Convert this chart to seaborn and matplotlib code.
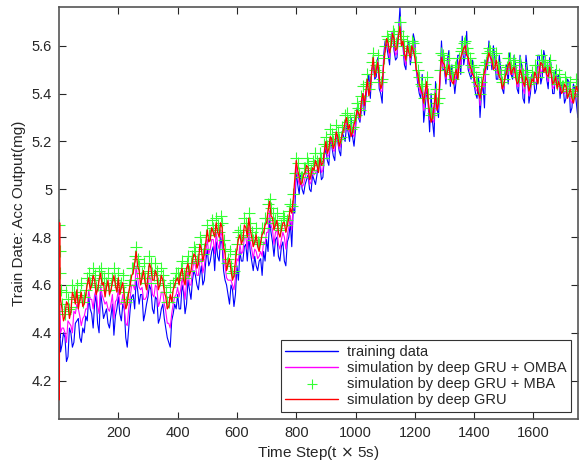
import numpy as np
import pandas as pd
import matplotlib
matplotlib.use('Agg')
import matplotlib.pyplot as plt
import seaborn as sns

# time steps: a few start-up samples, then every 10 steps
steps = np.r_[1, 2, 3, np.arange(10, 1751, 10)]
# in-between samples (5, 15, ..., 1745)
mid_steps = np.arange(5, 1746, 10)

# training data (blue)
training = [
    4.44, 4.38, 4.42, 4.35, 4.38, 4.30, 4.40, 4.36, 4.45, 4.38, 4.42, 4.47,
    4.55, 4.48, 4.52, 4.44, 4.57, 4.46, 4.50, 4.42, 4.52, 4.47,
    4.55, 4.45, 4.50, 4.34, 4.50, 4.56, 4.62, 4.52, 4.56, 4.48,
    4.55, 4.58, 4.48, 4.54, 4.46, 4.52, 4.42, 4.36, 4.45, 4.52,
    4.56, 4.50, 4.57, 4.52, 4.58, 4.62, 4.64, 4.58, 4.68, 4.62,
    4.75, 4.70, 4.76, 4.78, 4.70, 4.77, 4.62, 4.56, 4.60, 4.51,
    4.68, 4.74, 4.70, 4.77, 4.80, 4.70, 4.72, 4.66, 4.71, 4.74,
    4.79, 4.87, 4.78, 4.79, 4.72, 4.76, 4.70, 4.78, 4.86, 4.92,
    5.08, 4.98, 5.00, 5.02, 5.06, 4.99, 5.04, 5.06, 5.10, 5.05,
    5.17, 5.10, 5.18, 5.12, 5.20, 5.14, 5.22, 5.27, 5.20, 5.22,
    5.25, 5.30, 5.33, 5.31, 5.44, 5.38, 5.52, 5.47, 5.42, 5.36,
    5.62, 5.56, 5.64, 5.58, 5.55, 5.76, 5.60, 5.50, 5.62, 5.57,
    5.62, 5.44, 5.38, 5.28, 5.42, 5.24, 5.28, 5.45, 5.30, 5.62,
    5.50, 5.54, 5.43, 5.47, 5.46, 5.56, 5.64, 5.56, 5.50, 5.46,
    5.44, 5.38, 5.30, 5.44, 5.54, 5.62, 5.50, 5.55, 5.46, 5.50,
    5.40, 5.52, 5.57, 5.46, 5.52, 5.40, 5.52, 5.36, 5.50, 5.40,
    5.48, 5.42, 5.56, 5.47, 5.55, 5.42, 5.52, 5.40, 5.46, 5.38,
    5.44, 5.38, 5.45, 5.34, 5.42, 5.30,
]
training_mid = [
    4.32, 4.40, 4.28, 4.42, 4.34, 4.44, 4.46, 4.36, 4.40, 4.45,
    4.50, 4.42, 4.56, 4.40, 4.52, 4.48, 4.44, 4.47, 4.39, 4.50,
    4.48, 4.52, 4.38, 4.42, 4.55, 4.50, 4.58, 4.56, 4.45, 4.52,
    4.60, 4.50, 4.55, 4.44, 4.50, 4.46, 4.38, 4.34, 4.48, 4.50,
    4.50, 4.60, 4.48, 4.62, 4.54, 4.66, 4.60, 4.64, 4.60, 4.70,
    4.68, 4.74, 4.66, 4.72, 4.80, 4.66, 4.60, 4.52, 4.58, 4.56,
    4.62, 4.70, 4.76, 4.70, 4.74, 4.66, 4.68, 4.70, 4.64, 4.70,
    4.74, 4.82, 4.72, 4.80, 4.70, 4.78, 4.68, 4.80, 4.76, 4.90,
    5.02, 5.06, 4.98, 5.04, 5.00, 5.06, 5.02, 5.12, 5.04, 5.14,
    5.12, 5.20, 5.14, 5.23, 5.16, 5.24, 5.20, 5.24, 5.30, 5.18,
    5.34, 5.28, 5.40, 5.38, 5.48, 5.50, 5.46, 5.55, 5.40, 5.56,
    5.60, 5.52, 5.66, 5.54, 5.66, 5.62, 5.52, 5.60, 5.52, 5.65,
    5.50, 5.40, 5.48, 5.34, 5.36, 5.40, 5.22, 5.34, 5.46, 5.50,
    5.44, 5.58, 5.52, 5.40, 5.56, 5.48, 5.52, 5.66, 5.48, 5.54,
    5.40, 5.47, 5.40, 5.34, 5.50, 5.58, 5.60, 5.46, 5.56, 5.42,
    5.50, 5.44, 5.48, 5.56, 5.42, 5.56, 5.38, 5.56, 5.36, 5.48,
    5.40, 5.56, 5.44, 5.58, 5.46, 5.55, 5.40, 5.50, 5.48, 5.44,
    5.36, 5.46, 5.32, 5.44, 5.36,
]

# simulation by deep GRU + OMBA (magenta)
gru_omba = [
    4.30, 4.52, 4.48, 4.42, 4.40, 4.45, 4.43, 4.49, 4.52, 4.47, 4.46, 4.50,
    4.58, 4.54, 4.56, 4.51, 4.60, 4.54, 4.53, 4.49, 4.56, 4.53,
    4.58, 4.52, 4.50, 4.43, 4.55, 4.60, 4.68, 4.59, 4.59, 4.54,
    4.59, 4.62, 4.55, 4.59, 4.53, 4.57, 4.49, 4.44, 4.48, 4.55,
    4.59, 4.58, 4.59, 4.61, 4.60, 4.66, 4.68, 4.64, 4.71, 4.68,
    4.79, 4.75, 4.79, 4.82, 4.75, 4.80, 4.68, 4.62, 4.62, 4.58,
    4.71, 4.77, 4.74, 4.80, 4.84, 4.75, 4.75, 4.71, 4.74, 4.78,
    4.82, 4.91, 4.83, 4.82, 4.77, 4.79, 4.80, 4.81, 4.89, 4.94,
    5.10, 5.02, 5.01, 5.05, 5.08, 5.03, 5.06, 5.08, 5.12, 5.08,
    5.19, 5.14, 5.20, 5.16, 5.21, 5.18, 5.24, 5.29, 5.24, 5.23,
    5.27, 5.31, 5.35, 5.33, 5.45, 5.41, 5.54, 5.49, 5.45, 5.41,
    5.60, 5.59, 5.62, 5.61, 5.57, 5.70, 5.61, 5.52, 5.59, 5.59,
    5.58, 5.46, 5.40, 5.33, 5.44, 5.29, 5.29, 5.42, 5.34, 5.57,
    5.51, 5.51, 5.45, 5.46, 5.48, 5.54, 5.60, 5.58, 5.53, 5.48,
    5.46, 5.41, 5.35, 5.45, 5.52, 5.59, 5.52, 5.53, 5.48, 5.48,
    5.42, 5.50, 5.55, 5.48, 5.49, 5.43, 5.50, 5.40, 5.47, 5.42,
    5.46, 5.45, 5.53, 5.50, 5.53, 5.45, 5.50, 5.43, 5.44, 5.41,
    5.42, 5.41, 5.42, 5.36, 5.40, 5.36,
]
gru_omba_mid = [
    4.40, 4.42, 4.36, 4.44, 4.40, 4.48, 4.50, 4.43, 4.47, 4.50,
    4.54, 4.50, 4.58, 4.48, 4.56, 4.52, 4.50, 4.52, 4.46, 4.54,
    4.52, 4.56, 4.44, 4.50, 4.60, 4.58, 4.63, 4.58, 4.54, 4.55,
    4.64, 4.56, 4.60, 4.51, 4.57, 4.52, 4.44, 4.42, 4.52, 4.56,
    4.55, 4.63, 4.54, 4.66, 4.60, 4.70, 4.64, 4.70, 4.65, 4.74,
    4.73, 4.79, 4.73, 4.77, 4.83, 4.71, 4.63, 4.62, 4.60, 4.63,
    4.70, 4.73, 4.80, 4.75, 4.78, 4.71, 4.74, 4.72, 4.72, 4.77,
    4.82, 4.85, 4.77, 4.83, 4.75, 4.82, 4.75, 4.84, 4.83, 4.98,
    5.05, 5.04, 5.02, 5.07, 5.02, 5.08, 5.07, 5.10, 5.07, 5.15,
    5.14, 5.21, 5.16, 5.24, 5.17, 5.24, 5.24, 5.25, 5.26, 5.22,
    5.33, 5.29, 5.40, 5.40, 5.44, 5.50, 5.47, 5.54, 5.41, 5.54,
    5.62, 5.55, 5.66, 5.56, 5.65, 5.61, 5.55, 5.60, 5.54, 5.62,
    5.50, 5.42, 5.44, 5.38, 5.37, 5.34, 5.28, 5.34, 5.46, 5.51,
    5.46, 5.55, 5.48, 5.44, 5.51, 5.52, 5.56, 5.61, 5.50, 5.51,
    5.42, 5.44, 5.41, 5.42, 5.52, 5.57, 5.55, 5.50, 5.52, 5.44,
    5.48, 5.48, 5.48, 5.53, 5.43, 5.53, 5.42, 5.51, 5.39, 5.47,
    5.44, 5.50, 5.48, 5.53, 5.47, 5.53, 5.42, 5.48, 5.46, 5.42,
    5.40, 5.42, 5.37, 5.40, 5.40,
]

# simulation by deep GRU + MBA (green markers)
gru_mba = [
    4.85, 4.74, 4.65, 4.52, 4.48, 4.54, 4.51, 4.57, 4.60, 4.56, 4.53, 4.58,
    4.65, 4.62, 4.64, 4.60, 4.67, 4.63, 4.61, 4.58, 4.63, 4.62,
    4.65, 4.61, 4.57, 4.54, 4.62, 4.67, 4.76, 4.68, 4.65, 4.63,
    4.66, 4.69, 4.64, 4.66, 4.62, 4.64, 4.57, 4.53, 4.55, 4.62,
    4.65, 4.67, 4.64, 4.69, 4.66, 4.72, 4.74, 4.71, 4.77, 4.75,
    4.85, 4.81, 4.84, 4.88, 4.82, 4.86, 4.75, 4.71, 4.68, 4.66,
    4.77, 4.83, 4.81, 4.86, 4.90, 4.82, 4.80, 4.78, 4.80, 4.84,
    4.88, 4.96, 4.90, 4.87, 4.84, 4.85, 4.88, 4.87, 4.94, 4.98,
    5.13, 5.07, 5.05, 5.09, 5.11, 5.08, 5.10, 5.12, 5.15, 5.13,
    5.22, 5.19, 5.23, 5.21, 5.24, 5.22, 5.27, 5.32, 5.29, 5.26,
    5.31, 5.34, 5.39, 5.37, 5.48, 5.45, 5.57, 5.52, 5.49, 5.46,
    5.60, 5.63, 5.62, 5.65, 5.61, 5.70, 5.64, 5.56, 5.59, 5.62,
    5.57, 5.50, 5.44, 5.38, 5.47, 5.34, 5.32, 5.42, 5.38, 5.57,
    5.54, 5.51, 5.49, 5.46, 5.52, 5.55, 5.59, 5.62, 5.57, 5.52,
    5.49, 5.45, 5.40, 5.48, 5.53, 5.59, 5.56, 5.53, 5.52, 5.48,
    5.46, 5.51, 5.55, 5.52, 5.49, 5.47, 5.50, 5.45, 5.47, 5.45,
    5.47, 5.49, 5.52, 5.54, 5.53, 5.49, 5.50, 5.47, 5.44, 5.45,
    5.43, 5.45, 5.42, 5.40, 5.41, 5.43,
]
gru_mba_mid = [
    4.58, 4.49, 4.57, 4.50, 4.60, 4.55, 4.53, 4.61, 4.55, 4.63,
    4.61, 4.67, 4.59, 4.66, 4.63, 4.58, 4.65, 4.60, 4.67, 4.60,
    4.59, 4.64, 4.53, 4.60, 4.67, 4.72, 4.71, 4.63, 4.69, 4.61,
    4.72, 4.65, 4.69, 4.61, 4.67, 4.60, 4.53, 4.59, 4.61, 4.65,
    4.63, 4.70, 4.63, 4.72, 4.69, 4.76, 4.70, 4.80, 4.73, 4.81,
    4.81, 4.87, 4.83, 4.85, 4.89, 4.79, 4.69, 4.74, 4.65, 4.73,
    4.82, 4.80, 4.88, 4.83, 4.86, 4.79, 4.84, 4.77, 4.84, 4.88,
    4.94, 4.92, 4.86, 4.90, 4.83, 4.89, 4.85, 4.91, 4.93, 5.07,
    5.11, 5.05, 5.09, 5.13, 5.07, 5.12, 5.15, 5.10, 5.13, 5.19,
    5.18, 5.25, 5.20, 5.27, 5.21, 5.26, 5.31, 5.28, 5.25, 5.30,
    5.36, 5.33, 5.43, 5.44, 5.42, 5.53, 5.50, 5.56, 5.45, 5.55,
    5.64, 5.60, 5.66, 5.61, 5.66, 5.63, 5.60, 5.62, 5.58, 5.61,
    5.53, 5.47, 5.43, 5.44, 5.40, 5.31, 5.38, 5.36, 5.50, 5.56,
    5.50, 5.55, 5.48, 5.51, 5.49, 5.58, 5.61, 5.59, 5.55, 5.51,
    5.47, 5.43, 5.45, 5.52, 5.57, 5.58, 5.53, 5.57, 5.50, 5.45,
    5.50, 5.55, 5.51, 5.54, 5.47, 5.53, 5.48, 5.50, 5.44, 5.49,
    5.52, 5.47, 5.56, 5.52, 5.51, 5.54, 5.47, 5.50, 5.48, 5.43,
    5.47, 5.41, 5.45, 5.39, 5.46,
]

# simulation by deep GRU (red)
gru = [
    4.12, 4.86, 4.60, 4.50, 4.47, 4.52, 4.49, 4.55, 4.58, 4.54, 4.51, 4.56,
    4.63, 4.60, 4.62, 4.58, 4.65, 4.61, 4.59, 4.56, 4.61, 4.60,
    4.63, 4.59, 4.55, 4.52, 4.60, 4.65, 4.74, 4.66, 4.63, 4.61,
    4.64, 4.67, 4.62, 4.64, 4.60, 4.62, 4.55, 4.51, 4.53, 4.60,
    4.63, 4.65, 4.62, 4.67, 4.64, 4.70, 4.72, 4.69, 4.75, 4.73,
    4.83, 4.79, 4.82, 4.86, 4.80, 4.84, 4.73, 4.69, 4.66, 4.64,
    4.75, 4.81, 4.79, 4.84, 4.88, 4.80, 4.78, 4.76, 4.78, 4.82,
    4.86, 4.95, 4.88, 4.85, 4.82, 4.83, 4.86, 4.85, 4.92, 4.96,
    5.12, 5.05, 5.03, 5.07, 5.09, 5.06, 5.08, 5.10, 5.13, 5.11,
    5.20, 5.17, 5.21, 5.19, 5.22, 5.20, 5.25, 5.30, 5.27, 5.24,
    5.29, 5.32, 5.37, 5.35, 5.46, 5.43, 5.55, 5.50, 5.47, 5.44,
    5.58, 5.61, 5.60, 5.63, 5.59, 5.68, 5.62, 5.54, 5.57, 5.60,
    5.55, 5.48, 5.42, 5.36, 5.45, 5.32, 5.30, 5.40, 5.36, 5.55,
    5.52, 5.49, 5.47, 5.44, 5.50, 5.53, 5.57, 5.60, 5.55, 5.50,
    5.47, 5.43, 5.38, 5.46, 5.51, 5.57, 5.54, 5.51, 5.50, 5.46,
    5.44, 5.49, 5.53, 5.50, 5.47, 5.45, 5.48, 5.43, 5.45, 5.43,
    5.45, 5.47, 5.50, 5.52, 5.51, 5.47, 5.48, 5.45, 5.42, 5.43,
    5.41, 5.43, 5.40, 5.38, 5.39, 5.41,
]
gru_mid = [
    4.54, 4.45, 4.53, 4.46, 4.57, 4.52, 4.50, 4.57, 4.52, 4.60,
    4.58, 4.64, 4.56, 4.62, 4.60, 4.55, 4.62, 4.58, 4.64, 4.57,
    4.56, 4.61, 4.50, 4.57, 4.64, 4.69, 4.68, 4.60, 4.66, 4.58,
    4.69, 4.62, 4.66, 4.58, 4.64, 4.57, 4.50, 4.56, 4.58, 4.62,
    4.60, 4.67, 4.60, 4.69, 4.66, 4.73, 4.67, 4.77, 4.70, 4.78,
    4.78, 4.84, 4.80, 4.82, 4.86, 4.76, 4.66, 4.71, 4.62, 4.70,
    4.79, 4.77, 4.85, 4.80, 4.83, 4.76, 4.81, 4.74, 4.81, 4.85,
    4.91, 4.89, 4.83, 4.87, 4.80, 4.86, 4.82, 4.88, 4.90, 5.04,
    5.08, 5.02, 5.06, 5.10, 5.04, 5.09, 5.12, 5.07, 5.10, 5.16,
    5.15, 5.22, 5.17, 5.24, 5.18, 5.23, 5.28, 5.25, 5.22, 5.27,
    5.33, 5.30, 5.40, 5.41, 5.39, 5.50, 5.47, 5.53, 5.42, 5.52,
    5.63, 5.57, 5.65, 5.58, 5.64, 5.60, 5.57, 5.60, 5.55, 5.58,
    5.50, 5.44, 5.40, 5.41, 5.37, 5.28, 5.35, 5.33, 5.47, 5.53,
    5.47, 5.52, 5.45, 5.48, 5.46, 5.55, 5.59, 5.56, 5.52, 5.48,
    5.44, 5.40, 5.42, 5.49, 5.54, 5.55, 5.50, 5.54, 5.47, 5.42,
    5.47, 5.52, 5.48, 5.51, 5.44, 5.50, 5.45, 5.47, 5.41, 5.46,
    5.49, 5.44, 5.53, 5.49, 5.48, 5.51, 5.44, 5.47, 5.45, 5.40,
    5.44, 5.38, 5.42, 5.36, 5.43,
]


def to_frame(main, mid):
    d = pd.DataFrame({'step': np.r_[steps, mid_steps], 'value': np.r_[main, mid]})
    return d.sort_values('step')


df_train = to_frame(training, training_mid)
df_omba = to_frame(gru_omba, gru_omba_mid)
df_mba = to_frame(gru_mba, gru_mba_mid)
df_gru = to_frame(gru, gru_mid)

sns.set_style('ticks')
plt.rcParams['font.family'] = ['Liberation Sans', 'DejaVu Sans']

fig = plt.figure(figsize=(5.79, 4.65), dpi=100)
ax = fig.add_axes([0.102, 0.099, 0.896, 0.885])

sns.lineplot(data=df_train, x='step', y='value', ax=ax, color='#0000ff', lw=0.8,
             sort=False, estimator=None, label='training data')
sns.lineplot(data=df_omba, x='step', y='value', ax=ax, color='#ff00ff', lw=0.8,
             sort=False, estimator=None, label='simulation by deep GRU + OMBA')
sns.scatterplot(data=df_mba, x='step', y='value', ax=ax, color='#33ff33',
                marker='+', s=80, linewidth=0.8, zorder=2.5,
                label='simulation by deep GRU + MBA')
sns.lineplot(data=df_gru, x='step', y='value', ax=ax, color='#ff0000', lw=0.9,
             sort=False, estimator=None, zorder=3, label='simulation by deep GRU')

ax.set_xlim(0, 1750)
ax.set_ylim(4.04, 5.76)
ax.set_xticks([200, 400, 600, 800, 1000, 1200, 1400, 1600])
ax.set_yticks([4.2, 4.4, 4.6, 4.8, 5.0, 5.2, 5.4, 5.6])
ax.set_yticklabels(['4.2', '4.4', '4.6', '4.8', '5', '5.2', '5.4', '5.6'])
ax.tick_params(direction='in', length=5, width=0.8, top=True, right=True,
               labelsize=10.5, colors='#262626', pad=5)
for s in ax.spines.values():
    s.set_color('#555555')
    s.set_linewidth(1.2)

ax.set_xlabel('Time Step(t $\\times$ 5s)', fontsize=11, labelpad=3)
ax.set_ylabel('Train Date: Acc Output(mg)', fontsize=11, labelpad=4)

leg = ax.legend(loc='lower right', fontsize=10.5, frameon=True, fancybox=False,
                edgecolor='#333333', framealpha=1, handlelength=3.6,
                borderpad=0.3, labelspacing=0.15, handletextpad=0.6,
                borderaxespad=0.5)
leg.get_frame().set_linewidth(0.8)
for h in leg.legend_handles:
    if hasattr(h, 'set_sizes'):
        h.set_sizes([45])
        h.set_linewidth(0.8)
    elif hasattr(h, 'set_linewidth'):
        h.set_linewidth(1.0)

fig.savefig('out.png', dpi=100)
